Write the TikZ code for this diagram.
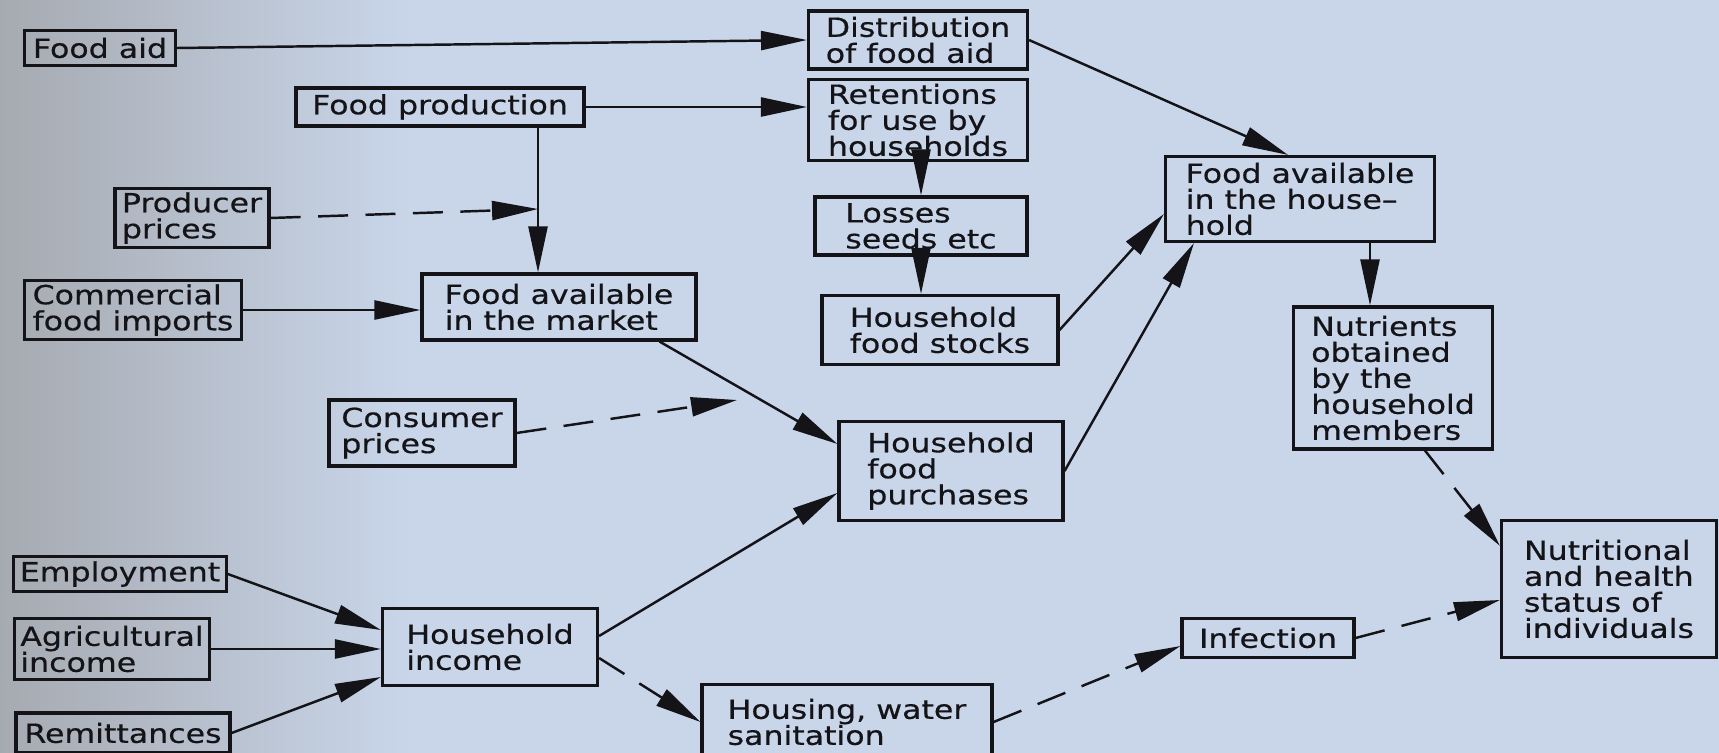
\documentclass[tikz,border=0pt]{standalone}
\usepackage{fontspec}
\setmainfont{DejaVu Sans}[FakeStretch=1.2, FakeBold=0.5]
\usetikzlibrary{arrows.meta,calc}
\definecolor{paper}{RGB}{201,214,234}
\definecolor{paperedge}{RGB}{166,170,177}
\definecolor{ink}{RGB}{20,20,24}
\pgfdeclarehorizontalshading{paperfade}{100bp}{color(0bp)=(paperedge); color(25bp)=(paperedge); color(37bp)=(paper); color(100bp)=(paper)}
\tikzset{
	block/.style={draw=ink, line width=1.8pt, text=ink, align=left, inner xsep=0.12cm, inner ysep=0.08cm, font=\fontsize{15}{14.8}\selectfont},
	link/.style={draw=ink, line width=1.4pt, -{Triangle[length=0.92cm,width=0.38cm]}},
	dlink/.style={link, dash pattern=on 0.6cm off 0.35cm},
}
\begin{document}
\begin{tikzpicture}[x=0.02cm, y=-0.02cm]
	\useasboundingbox (0,0) rectangle (1719,753);
	\shade[shading=paperfade] (0,0) rectangle (1719,753);

	% sources on the left
	\node[block, minimum width=3.02cm, minimum height=0.70cm] (fa) at (100,48) {Food aid};
	\node[block, minimum width=5.76cm, minimum height=0.76cm] (prod) at (440,107) {Food production};
	\node[block, minimum width=3.08cm, minimum height=1.02cm] (pp) at (192,218) {Producer\\prices};
	\node[block, minimum width=4.34cm, minimum height=1.18cm] (cfi) at (133,310) {Commercial\\food imports};
	\node[block, minimum width=5.48cm, minimum height=1.32cm] (fam) at (559,307) {Food available\\in the market};
	\node[block, minimum width=3.72cm, minimum height=1.32cm] (cp) at (422,433) {Consumer\\prices};
	\node[block, minimum width=4.18cm, minimum height=0.70cm] (emp) at (120,574) {Employment};
	\node[block, minimum width=3.84cm, minimum height=1.22cm] (agr) at (112,649) {Agricultural\\income};
	\node[block, minimum width=4.28cm, minimum height=0.80cm] (rem) at (123,733) {Remittances};
	\node[block, minimum width=4.30cm, minimum height=1.54cm] (inc) at (490,647) {Household\\income};

	% middle column
	\node[block, minimum width=4.38cm, minimum height=1.16cm] (dist) at (918,40) {Distribution\\of food aid};
	\node[block, minimum width=4.38cm, minimum height=1.58cm] (ret) at (918,120) {Retentions\\for use by\\households};
	\node[block, minimum width=4.24cm, minimum height=1.16cm] (loss) at (921,226) {Losses\\seeds etc};
	\node[block, minimum width=4.72cm, minimum height=1.38cm] (stock) at (940,330) {Household\\food stocks};
	\node[block, minimum width=4.48cm, minimum height=1.98cm] (purch) at (951,471) {Household\\food\\purchases};
	\node[block, minimum width=5.80cm, minimum height=1.50cm] (hous) at (847,722) {Housing, water\\sanitation};

	% right side
	\node[block, minimum width=5.38cm, minimum height=1.70cm] (fah) at (1300,199) {Food available\\in the house--\\hold};
	\node[block, minimum width=3.98cm, minimum height=2.84cm] (nut) at (1393,378) {Nutrients\\obtained\\by the\\household\\members};
	\node[block, minimum width=3.44cm, minimum height=0.78cm] (inf) at (1268,638) {Infection};
	\node[block, minimum width=4.30cm, minimum height=2.74cm] (stat) at (1609,589) {Nutritional\\and health\\status of\\individuals};

	\coordinate (pj) at (538,209);
	\coordinate (cpend) at (737,400);
	\coordinate (nx) at ($(nut.north)+(-23,0)$);

	\draw[link] (fa.east) -- (dist.west);
	\draw[link] (prod.east) -- (prod.east -| ret.west);
	\draw[link] (prod.south -| pj) -- (pj |- fam.north);
	\draw[dlink] (pp.east) -- (pj);
	\draw[link] (cfi.east) -- (cfi.east -| fam.west);
	\draw[link] (dist.east) -- ($(fah.north)+(-12,0)$);
	\draw[link] (ret.south -| loss.north) -- (loss.north);
	\draw[link] (loss.south) -- (loss.south |- stock.north);
	\draw[link] (stock.east) -- ($(fah.west)+(0,15)$);
	\draw[link] (purch.east) -- ($(fah.south west)+(30,0)$);
	\draw[link] ($(fam.south east)+(-38,0)$) -- ($(purch.west)+(0,-27)$);
	\draw[dlink] (cp.east) -- (cpend);
	\draw[link] ($(inc.east)+(0,-11)$) -- ($(purch.west)+(0,22)$);
	\draw[link] (emp.east) -- ($(inc.west)+(0,-17)$);
	\draw[link] (agr.east) -- (agr.east -| inc.west);
	\draw[link] (rem.east) -- ($(inc.west)+(0,30)$);
	\draw[dlink] ($(inc.east)+(0,11)$) -- (hous.west);
	\draw[dlink] (hous.east) -- ($(inf.west)+(0,8)$);
	\draw[dlink] (inf.east) -- ($(stat.west)+(0,11)$);
	\draw[link] (fah.south -| nx) -- (nx);
	\draw[dlink] ($(nut.south)+(32,0)$) -- ($(stat.north west)+(0,27)$);
\end{tikzpicture}
\end{document}
